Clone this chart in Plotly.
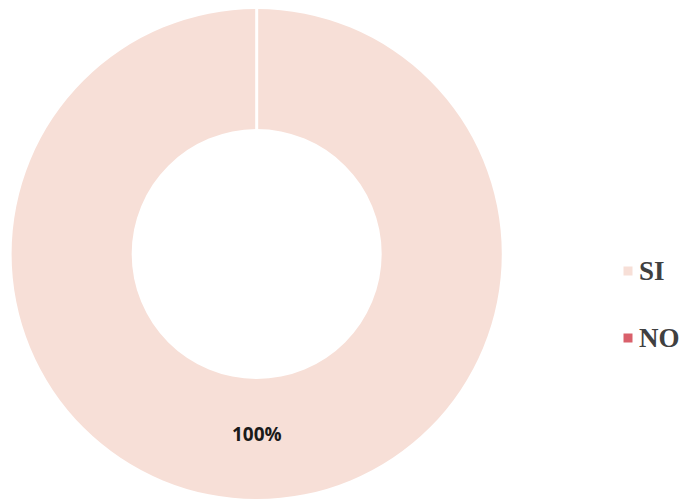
import plotly.graph_objects as go

labels = ['SI', 'NO']
values = [100, 0]
colors = ['#F7DFD7', '#D9606B']

W, H = 687, 499
dom_x = [0.005, 0.719]
dom_y = [0.016, 0.998]
hole = 0.51

fig = go.Figure()

fig.add_trace(go.Pie(
    labels=labels,
    values=values,
    hole=hole,
    sort=False,
    direction='clockwise',
    marker=dict(colors=colors, line=dict(color='white', width=0)),
    textinfo='none',
    hoverinfo='label+percent',
    showlegend=False,
    domain=dict(x=dom_x, y=dom_y),
))

total = sum(values)
pct = round(values[0] / total * 100)

cx = (dom_x[0] + dom_x[1]) / 2
cy = (dom_y[0] + dom_y[1]) / 2
r_out = (dom_y[1] - dom_y[0]) * H / 2

# thin white gap at the slice start
fig.add_shape(type='line', xref='paper', yref='paper',
              x0=cx, x1=cx,
              y0=cy + r_out * hole / H, y1=1.0,
              line=dict(color='white', width=3))

fig.add_annotation(
    text=f'<b>{pct}%</b>', xref='paper', yref='paper',
    x=cx, y=0.116,
    showarrow=False, font=dict(family='Open Sans', size=19, color='#1a1a1a'),
)

# hand-made legend (plotly's own legend clips the bold labels)
leg_x = 620 / W
leg_y0 = 1 - 263 / H
leg_step = 67 / H
half = 4.5
for i, (lab, col) in enumerate(zip(labels, colors)):
    yy = leg_y0 - i * leg_step
    fig.add_shape(type='rect', xref='paper', yref='paper',
                  x0=leg_x - half / W, x1=leg_x + half / W,
                  y0=yy - half / H, y1=yy + half / H,
                  line=dict(width=0), fillcolor=col)
    fig.add_annotation(
        text=f'<b>{lab}</b>', xref='paper', yref='paper',
        x=leg_x + 9 / W, y=yy, xanchor='left', yanchor='middle',
        showarrow=False,
        font=dict(family='Liberation Serif', size=27, color='#404040'),
    )

fig.update_layout(
    width=W, height=H,
    margin=dict(t=0, b=0, l=0, r=0),
    paper_bgcolor='white', plot_bgcolor='white',
    showlegend=False,
)

fig.write_html('out.html')
